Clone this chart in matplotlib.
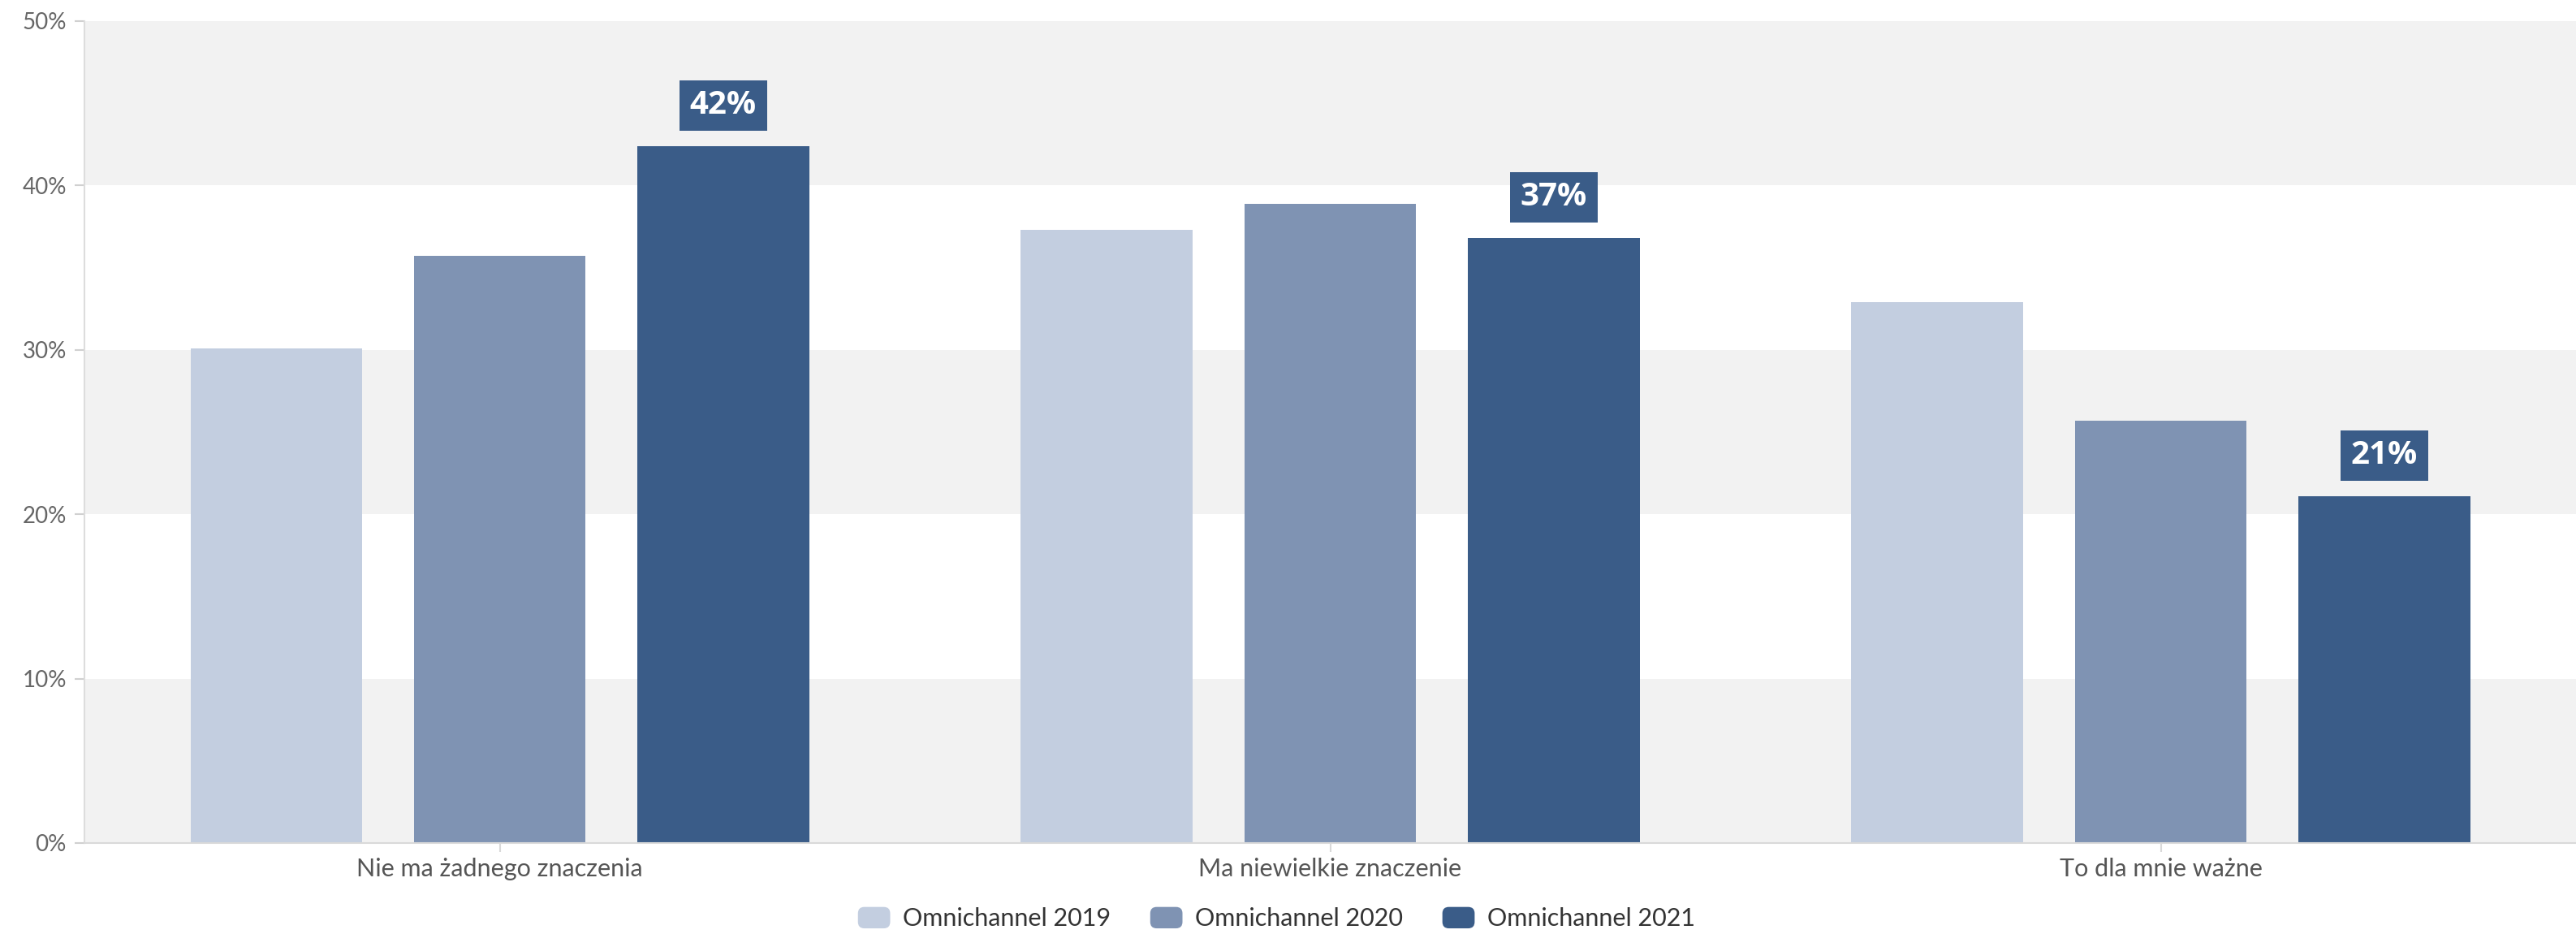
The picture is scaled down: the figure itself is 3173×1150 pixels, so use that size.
import matplotlib.pyplot as plt
import numpy as np
from matplotlib.patches import Rectangle, FancyBboxPatch, Patch
from matplotlib.legend_handler import HandlerPatch
from matplotlib.ticker import FuncFormatter

categories = ["Nie ma żadnego znaczenia", "Ma niewielkie znaczenie", "To dla mnie ważne"]
series_names = ["Omnichannel 2019", "Omnichannel 2020", "Omnichannel 2021"]
s2019 = [30.1, 37.3, 32.9]
s2020 = [35.7, 38.9, 25.7]
s2021 = [42.4, 36.8, 21.1]
colors = ["#c3cee0", "#7f93b3", "#3a5c88"]

plt.rcParams['font.family'] = ['Lato', 'DejaVu Sans']


class RoundedHandler(HandlerPatch):
    # rounded swatches for the legend
    def create_artists(self, legend, orig_handle, xdescent, ydescent,
                       width, height, fontsize, trans):
        p = FancyBboxPatch((-xdescent, -ydescent), width, height,
                           boxstyle="round,pad=0,rounding_size=%f" % (height * 0.3),
                           facecolor=orig_handle.get_facecolor(),
                           edgecolor="none", transform=trans)
        return [p]


fig = plt.figure(figsize=(31.73, 11.5), dpi=100)
ax = fig.add_axes([0.0328, 0.0974, 0.9672, 0.88])

# alternating background bands
for lo in (0, 20, 40):
    ax.axhspan(lo, lo + 10, color="#f2f2f2", zorder=0, lw=0)

x = np.arange(len(categories))
width = 0.207
step = 0.269
all_series = [s2019, s2020, s2021]
for i, (vals, col) in enumerate(zip(all_series, colors)):
    ax.bar(x + (i - 1) * step, vals, width, color=col, zorder=2)

# value labels on the latest series
box_w, box_h, gap = 0.1056, 3.06, 0.95
for xi, v in zip(x + step, s2021):
    ax.add_patch(Rectangle((xi - box_w / 2, v + gap), box_w, box_h,
                           facecolor=colors[2], edgecolor="none", zorder=3))
    ax.text(xi, v + gap + box_h / 2, "%d%%" % round(v), ha="center", va="center",
            color="white", fontsize=29, fontweight="bold", family="Open Sans",
            zorder=4)

ax.set_xlim(-0.5, 2.5)
ax.set_ylim(0, 50)
ax.set_yticks(range(0, 51, 10))
ax.yaxis.set_major_formatter(FuncFormatter(lambda v, p: "%d%%" % v))
ax.set_xticks(x)
ax.set_xticklabels(categories)

for s in ("top", "right"):
    ax.spines[s].set_visible(False)
ax.spines["left"].set_color("#dddddd")
ax.spines["bottom"].set_color("#d9d9d9")
ax.spines["left"].set_linewidth(1.5)
ax.spines["bottom"].set_linewidth(1.5)

ax.tick_params(axis="y", labelsize=20, labelcolor="#666666", color="#d0d0d0",
               length=9, width=1.5, pad=7)
ax.tick_params(axis="x", labelsize=22, labelcolor="#555555", color="#d9d9d9",
               length=8, width=1.5, pad=5)

handles = [Patch(facecolor=c) for c in colors]
fig.legend(handles, series_names, loc="center", bbox_to_anchor=(0.4955, 0.0165),
           ncol=3, frameon=False, fontsize=22, labelcolor="#333333",
           handlelength=1.3, handleheight=0.95, handletextpad=0.5,
           columnspacing=1.6,
           handler_map={Patch: RoundedHandler()})

fig.savefig("out.png", dpi=100)
